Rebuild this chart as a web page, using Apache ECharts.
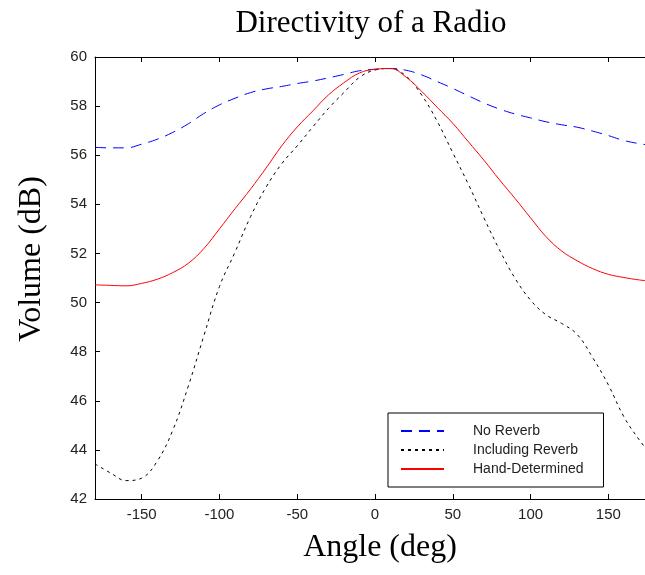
<!DOCTYPE html>
<html>
<head>
<meta charset="utf-8">
<script src="https://cdn.jsdelivr.net/npm/echarts@6/dist/echarts.min.js"></script>
<style>
  html, body { margin: 0; padding: 0; background: #fff; }
  #chart { width: 645px; height: 575px; }
</style>
</head>
<body>
<div id="chart"></div>
<script>
// angles (deg), one reading every 10 deg
var angles = [-180, -170, -160, -150, -140, -130, -120, -110, -100, -90, -80, -70, -60, -50, -40, -30, -20, -10,
  0, 10, 20, 30, 40, 50, 60, 70, 80, 90, 100, 110, 120, 130, 140, 150, 160, 170, 180];

var noReverb = [56.32, 56.30, 56.30, 56.45, 56.65, 56.93, 57.28, 57.70, 58.05, 58.32, 58.55, 58.70, 58.80, 58.92, 59.02, 59.15, 59.29, 59.44,
  59.50, 59.53, 59.46, 59.27, 59.00, 58.72, 58.42, 58.13, 57.88, 57.68, 57.52, 57.36, 57.24, 57.14, 56.98, 56.80, 56.60, 56.47, 56.38];

var inclReverb = [43.43, 43.06, 42.75, 42.85, 43.54, 44.80, 46.60, 48.65, 50.65, 52.05, 53.50, 54.70, 55.65, 56.38, 57.15, 57.90, 58.55, 59.17,
  59.47, 59.53, 59.22, 58.45, 57.38, 56.10, 54.82, 53.45, 52.15, 50.99, 50.10, 49.50, 49.15, 48.70, 47.75, 46.65, 45.35, 44.40, 43.60];

var handDet = [50.72, 50.70, 50.68, 50.78, 50.95, 51.22, 51.60, 52.20, 53.00, 53.82, 54.62, 55.48, 56.38, 57.15, 57.80, 58.45, 58.95, 59.35,
  59.50, 59.53, 59.18, 58.60, 57.95, 57.30, 56.55, 55.80, 55.00, 54.24, 53.45, 52.68, 52.10, 51.70, 51.38, 51.15, 51.02, 50.92, 50.85];

var xTicks = [-150, -100, -50, 0, 50, 100, 150];

function pairs(ys) {
  return angles.map(function (a, i) { return [a, ys[i]]; });
}

var sans = 'Liberation Sans';
var serif = 'Liberation Serif';

var chart = echarts.init(document.getElementById('chart'));
chart.setOption({
  animation: false,
  backgroundColor: '#fff',
  title: {
    text: 'Directivity of a Radio',
    left: 366,
    textAlign: 'center',
    top: 3,
    textStyle: { fontFamily: serif, fontSize: 31, fontWeight: 'normal', color: '#000' }
  },
  grid: { left: 95, top: 57, width: 560, bottom: 76, outerBoundsMode: 'none' },
  legend: {
    orient: 'vertical',
    left: 388,
    top: 413,
    padding: [11, 20, 11, 12],
    itemWidth: 43,
    itemHeight: 14,
    itemGap: 5,
    backgroundColor: '#fff',
    borderColor: '#000',
    borderWidth: 1,
    borderRadius: 0,
    itemStyle: { opacity: 0 },
    textStyle: { fontFamily: sans, fontSize: 14, color: '#222', padding: [0, 0, 0, 24] },
    data: ['No Reverb', 'Including Reverb', 'Hand-Determined']
  },
  xAxis: [{
    type: 'value',
    min: -180,
    max: 180,
    name: 'Angle (deg)',
    nameLocation: 'middle',
    nameGap: 33,
    nameTextStyle: { fontFamily: serif, fontSize: 32, color: '#000', padding: [0, 0, 0, 10] },
    axisLine: { onZero: false, lineStyle: { color: '#000', width: 1 } },
    axisTick: { inside: true, length: 5, customValues: xTicks, lineStyle: { color: '#000' } },
    axisLabel: { customValues: xTicks, fontFamily: sans, fontSize: 15, color: '#222', margin: 8 },
    splitLine: { show: false }
  }, {
    type: 'value',
    position: 'top',
    min: -180,
    max: 180,
    axisLine: { onZero: false, lineStyle: { color: '#000', width: 1 } },
    axisTick: { inside: true, length: 5, customValues: xTicks, lineStyle: { color: '#000' } },
    axisLabel: { show: false },
    splitLine: { show: false }
  }],
  yAxis: {
    type: 'value',
    position: 'left',
    min: 42,
    max: 60,
    interval: 2,
    name: 'Volume (dB)',
    nameLocation: 'middle',
    nameGap: 47,
    nameTextStyle: { fontFamily: serif, fontSize: 32, color: '#000', padding: [0, 0, 0, 38] },
    axisLine: { show: true, onZero: false, lineStyle: { color: '#000', width: 1 } },
    axisTick: { show: true, inside: true, length: 5, lineStyle: { color: '#000' } },
    axisLabel: { fontFamily: sans, fontSize: 15, color: '#222', margin: 8 },
    splitLine: { show: false }
  },
  series: [{
    name: 'No Reverb',
    type: 'line',
    data: pairs(noReverb),
    smooth: 0.4,
    showSymbol: false,
    symbol: 'none',
    color: '#0000ff',
    lineStyle: { color: '#0000ff', width: 1, type: [11, 7] }
  }, {
    name: 'Including Reverb',
    type: 'line',
    data: pairs(inclReverb),
    smooth: 0.4,
    showSymbol: false,
    symbol: 'none',
    color: '#000',
    lineStyle: { color: '#000', width: 1, type: [3, 4] }
  }, {
    name: 'Hand-Determined',
    type: 'line',
    data: pairs(handDet),
    smooth: 0.4,
    showSymbol: false,
    symbol: 'none',
    color: '#ff0000',
    lineStyle: { color: '#ff0000', width: 1 }
  }]
});
</script>
</body>
</html>
